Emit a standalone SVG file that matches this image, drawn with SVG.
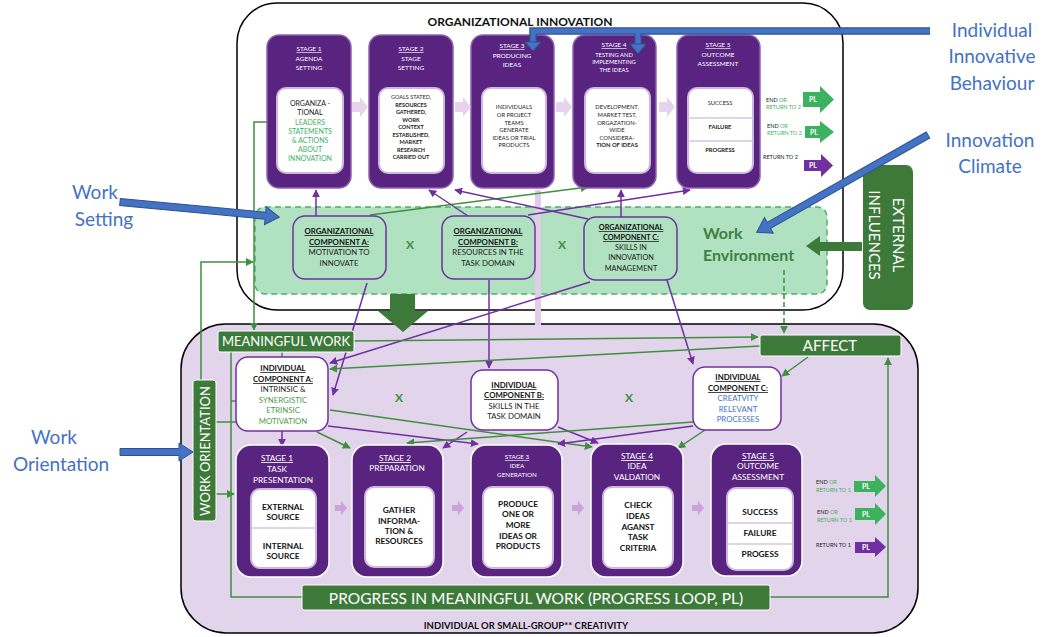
<svg xmlns="http://www.w3.org/2000/svg" width="1045" height="637" viewBox="0 0 1045 637">
<style>
text{font-family:Lato,"Liberation Sans",sans-serif;text-anchor:middle}
.stg{fill:#59247f;stroke:#8e63b3;stroke-width:1.5}
.bstg{fill:#59247f;stroke:#ffffff;stroke-width:1.5}
.wb{fill:#fff;stroke:#cfb6e0;stroke-width:2}
.tt{fill:#fff;font-size:6.5px}
.tu{fill:#fff;font-size:6.5px;text-decoration:underline}
.it{fill:#222;font-size:5.8px}
.bt{fill:#fff;font-size:8.3px}
.bu{fill:#fff;font-size:8.3px;text-decoration:underline}
.bi{fill:#111;font-size:8.3px;font-weight:bold}
.pl{fill:#fff;font-size:7px;font-weight:bold}
.sm{font-size:5.5px;text-anchor:start;fill:#222}
.g{fill:#3cb25f}
.gb{fill:#3d7a3a}
.oc{fill:none;stroke:#7030a0;stroke-width:1.5}
.ct{fill:#222;font-size:7.8px}
.cb{fill:#111;font-size:7.8px;font-weight:bold;text-decoration:underline}
.lp{stroke:#7030a0;stroke-width:1.5;fill:none;marker-end:url(#ap)}
.lg{stroke:#3f8f3f;stroke-width:1.5;fill:none;marker-end:url(#ag)}
.lgn{stroke:#3f8f3f;stroke-width:1.5;fill:none}
.blue{fill:#4472c4;stroke:#2f528f;stroke-width:1}
.bl{fill:#4472c4;font-size:19px;font-family:Lato,"Liberation Sans",sans-serif}
.X{fill:#3f8f3f;font-size:12px;font-weight:bold}
.la{fill:#e6d4ec}
.lb{fill:#c9a3d9}
</style>
<defs>
<marker id="ap" viewBox="0 0 10 10" refX="9" refY="5" markerWidth="8" markerHeight="8" markerUnits="userSpaceOnUse" orient="auto"><path d="M0,0 L10,5 L0,10 z" fill="#7030a0"/></marker>
<marker id="ag" viewBox="0 0 10 10" refX="9" refY="5" markerWidth="8" markerHeight="8" markerUnits="userSpaceOnUse" orient="auto"><path d="M0,0 L10,5 L0,10 z" fill="#3f8f3f"/></marker>
</defs>

<!-- containers -->
<g id="org-innovation">
<rect x="237" y="3" width="606" height="307" rx="40" fill="#fff" stroke="#000" stroke-width="1.5"/>
<text x="520" y="26" style="font-size:12px;font-weight:bold;fill:#111">ORGANIZATIONAL INNOVATION</text>
</g>
<g id="individual-creativity">
<rect x="181" y="324" width="737" height="309" rx="45" fill="#e2d4ea" stroke="#000" stroke-width="1.5"/>
<text x="526" y="629" style="font-size:9.5px;font-weight:bold;fill:#111">INDIVIDUAL OR SMALL-GROUP** CREATIVITY</text>
</g>
<g id="work-environment">
<rect x="255" y="207" width="572" height="87" rx="10" fill="#b0e1c1" stroke="#4cb064" stroke-width="1.5" stroke-dasharray="6,4"/>
<text x="703" y="239" style="text-anchor:start;font-size:16px;font-weight:bold;fill:#3f7f3f">Work</text>
<text x="703" y="261" style="text-anchor:start;font-size:16px;font-weight:bold;fill:#3f7f3f">Environment</text>
</g>

<!-- connectors -->
<g id="connectors">
<rect x="535" y="190" width="6" height="135" fill="#e2cce8"/>
<line class="lp" x1="316" y1="216" x2="316" y2="190"/>
<line class="lg" x1="370" y1="215" x2="588" y2="187"/>
<line class="lp" x1="468" y1="216" x2="429" y2="190"/>
<line class="lp" x1="588" y1="219" x2="455" y2="190"/>
<line class="lp" x1="621" y1="217" x2="621" y2="190"/>
<line class="lp" x1="528" y1="215" x2="690" y2="190"/>
<line class="lp" x1="367" y1="283" x2="333" y2="395"/>
<line class="lp" x1="590" y1="282" x2="330" y2="363"/>
<line class="lp" x1="489" y1="280" x2="489" y2="368"/>
<line class="lp" x1="667" y1="280" x2="693" y2="364"/>
<path class="lg" d="M278,122 H254 V330"/>
<path class="lg" d="M201,380 V262 H253"/>
<line class="lg" x1="784" y1="270" x2="784" y2="333" stroke-dasharray="5,3"/>
<line class="lg" x1="354" y1="341" x2="758" y2="337"/>
<line class="lg" x1="760" y1="346" x2="330" y2="369"/>
<line class="lg" x1="808" y1="357" x2="782" y2="376"/>
<line class="lg" x1="282" y1="352" x2="282" y2="366"/>
<path class="lgn" d="M231,352 V597 H302"/>
<line class="lg" x1="231" y1="401" x2="247" y2="401"/>
<line class="lg" x1="216" y1="422" x2="246" y2="422"/>
<line class="lg" x1="216" y1="494" x2="234" y2="494"/>
<path class="lg" d="M765,597 H888 V358"/>
<line class="lp" x1="282" y1="431" x2="282" y2="446"/>
<line class="lg" x1="317" y1="432" x2="350" y2="448"/>
<line class="lg" x1="330" y1="410" x2="592" y2="447"/>
<line class="lp" x1="328" y1="426" x2="478" y2="444"/>
<line class="lp" x1="467" y1="432" x2="443" y2="448"/>
<line class="lp" x1="558" y1="427" x2="598" y2="443"/>
<line class="lg" x1="693" y1="422" x2="407" y2="443"/>
<line class="lp" x1="693" y1="426" x2="558" y2="444"/>
<line class="lg" x1="705" y1="430" x2="678" y2="448"/>
<path class="gb" d="M390,294 H415 V311 H428 L403,332 L378,311 H390 Z"/>
<path class="gb" d="M862,242 H820 V236 L806,246 L820,256 V251 H862 Z"/>
</g>

<!-- labels outside -->
<g id="label-iib">
<text class="bl" x="992" y="37">Individual</text>
<text class="bl" x="992" y="63">Innovative</text>
<text class="bl" x="992" y="90">Behaviour</text>
</g>
<g id="label-climate">
<text class="bl" x="990" y="147">Innovation</text>
<text class="bl" x="990" y="173">Climate</text>
</g>
<g id="label-work-setting">
<text class="bl" x="95" y="199">Work</text>
<text class="bl" x="104" y="226">Setting</text>
</g>
<g id="label-work-orientation">
<text class="bl" x="54" y="444">Work</text>
<text class="bl" x="61" y="471">Orientation</text>
</g>
<g id="external-influences">
<rect x="863" y="165" width="50" height="145" rx="7" fill="#3d7a3a"/>
<text transform="translate(893,235) rotate(90)" style="fill:#fff;font-size:15px">EXTERNAL</text>
<text transform="translate(869,235) rotate(90)" style="fill:#fff;font-size:15px">INFLUENCES</text>
</g>

<!-- top stages -->
<g id="org-stage1">
<rect class="stg" x="267" y="35" width="84" height="153" rx="12"/>
<rect class="wb" x="277" y="88" width="66" height="85" rx="9"/>
<text class="tu" x="309" y="51">STAGE 1</text>
<text class="tt" x="309" y="61">AGENDA</text>
<text class="tt" x="309" y="70">SETTING</text>
<text class="it" x="310" y="106" style="font-size:7px">ORGANIZA -</text>
<text class="it" x="310" y="115" style="font-size:7px">TIONAL</text>
<text class="it" x="310" y="125" style="font-size:7px;fill:#3cb25f">LEADERS</text>
<text class="it" x="310" y="134" style="font-size:7px;fill:#3cb25f">STATEMENTS</text>
<text class="it" x="310" y="143" style="font-size:7px;fill:#3cb25f">&amp; ACTIONS</text>
<text class="it" x="310" y="152" style="font-size:7px;fill:#3cb25f">ABOUT</text>
<text class="it" x="310" y="161" style="font-size:7px;fill:#3cb25f">INNOVATION</text>
</g>
<g id="org-stage2">
<rect class="stg" x="369" y="35" width="84" height="153" rx="12"/>
<rect class="wb" x="379" y="88" width="65" height="85" rx="9"/>
<text class="tu" x="411" y="51">STAGE 2</text>
<text class="tt" x="411" y="61">STAGE</text>
<text class="tt" x="411" y="70">SETTING</text>
<text class="it" x="411" y="99" style="font-size:5.5px">GOALS STATED,</text>
<text class="it" x="411" y="107" style="font-size:5.5px;font-weight:bold">RESOURCES</text>
<text class="it" x="411" y="114" style="font-size:5.5px;font-weight:bold">GATHERED,</text>
<text class="it" x="411" y="122" style="font-size:5.5px;font-weight:bold">WORK</text>
<text class="it" x="411" y="129" style="font-size:5.5px;font-weight:bold">CONTEXT</text>
<text class="it" x="411" y="137" style="font-size:5.5px;font-weight:bold">ESTABLISHED,</text>
<text class="it" x="411" y="144" style="font-size:5.5px;font-weight:bold">MARKET</text>
<text class="it" x="411" y="152" style="font-size:5.5px;font-weight:bold">RESEARCH</text>
<text class="it" x="411" y="159" style="font-size:5.5px;font-weight:bold">CARRIED OUT</text>
</g>
<g id="org-stage3">
<rect class="stg" x="471" y="35" width="83" height="153" rx="12"/>
<rect class="wb" x="482" y="88" width="64" height="85" rx="9"/>
<text class="tu" x="512" y="48">STAGE 3</text>
<text class="tt" x="512" y="58">PRODUCING</text>
<text class="tt" x="512" y="67">IDEAS</text>
<text class="it" x="514" y="109">INDIVIDUALS</text>
<text class="it" x="514" y="117">OR PROJECT</text>
<text class="it" x="514" y="125">TEAMS</text>
<text class="it" x="514" y="132">GENERATE</text>
<text class="it" x="514" y="140">IDEAS OR TRIAL</text>
<text class="it" x="514" y="147">PRODUCTS</text>
</g>
<g id="org-stage4">
<rect class="stg" x="573" y="35" width="83" height="153" rx="12"/>
<rect class="wb" x="585" y="88" width="65" height="85" rx="9"/>
<text class="tu" x="614" y="47">STAGE 4</text>
<text class="tt" x="614" y="57" style="font-size:5.8px">TESTING AND</text>
<text class="tt" x="614" y="64" style="font-size:5.8px">IMPLEMENTING</text>
<text class="tt" x="614" y="72" style="font-size:5.8px">THE IDEAS</text>
<text class="it" x="617" y="109">DEVELOPMENT,</text>
<text class="it" x="617" y="117">MARKET TEST,</text>
<text class="it" x="617" y="125">ORGAZATION-</text>
<text class="it" x="617" y="132">WIDE</text>
<text class="it" x="617" y="140">CONSIDERA-</text>
<text class="it" x="617" y="147" style="font-weight:bold">TION OF IDEAS</text>
</g>
<g id="org-stage5">
<rect class="stg" x="677" y="35" width="83" height="153" rx="12"/>
<rect class="wb" x="688" y="88" width="65" height="85" rx="9"/>
<line x1="688" y1="118" x2="753" y2="118" stroke="#d9c3e5" stroke-width="1.5"/>
<line x1="688" y1="141" x2="753" y2="141" stroke="#d9c3e5" stroke-width="1.5"/>
<text class="tu" x="718" y="47">STAGE 5</text>
<text class="tt" x="718" y="57">OUTCOME</text>
<text class="tt" x="718" y="66">ASSESSMENT</text>
<text class="it" x="720" y="105">SUCCESS</text>
<text class="it" x="720" y="129" style="font-weight:bold">FAILURE</text>
<text class="it" x="720" y="152" style="font-weight:bold">PROGRESS</text>
</g>
<g id="org-stage-flow">
<path class="la" d="M352,102 H360 V97 L368,107 L360,117 V112 H352 Z"/>
<path class="la" d="M455,102 H463 V97 L471,107 L463,117 V112 H455 Z"/>
<path class="la" d="M556,102 H564 V97 L572,107 L564,117 V112 H556 Z"/>
<path class="la" d="M659,102 H667 V97 L675,107 L667,117 V112 H659 Z"/>
</g>
<g id="org-outcomes">
<text class="sm" x="766" y="102">END <tspan class="g">OR</tspan></text>
<text class="sm g" x="766" y="109">RETURN TO 2</text>
<text class="sm" x="767" y="128">END <tspan class="g">OR</tspan></text>
<text class="sm g" x="767" y="135">RETURN TO 2</text>
<text class="sm" x="763" y="159">RETURN TO 2</text>
<path d="M803,92 H820 V86 L834,99.5 L820,113 V107 H803 Z" fill="#3cb25f"/>
<path d="M805,126 H820 V121 L834,132 L820,143 V138 H805 Z" fill="#3cb25f"/>
<path d="M804,160 H821 V154 L833,165.5 L821,177 V171 H804 Z" fill="#7030a0"/>
<text class="pl" x="813" y="102">PL</text>
<text class="pl" x="814" y="134.5">PL</text>
<text class="pl" x="813" y="168">PL</text>
</g>

<!-- organizational components -->
<g id="org-comp-a">
<rect class="oc" x="293" y="216" width="93" height="63" rx="12"/>
<text class="cb" x="339" y="234">ORGANIZATIONAL</text>
<text class="cb" x="339" y="245">COMPONENT A:</text>
<text class="ct" x="339" y="255">MOTIVATION TO</text>
<text class="ct" x="339" y="266">INNOVATE</text>
</g>
<g id="org-comp-b">
<rect class="oc" x="442" y="216" width="93" height="63" rx="12"/>
<text class="cb" x="488" y="234">ORGANIZATIONAL</text>
<text class="cb" x="488" y="245">COMPONENT B:</text>
<text class="ct" x="488" y="255">RESOURCES IN THE</text>
<text class="ct" x="488" y="266">TASK DOMAIN</text>
</g>
<g id="org-comp-c">
<rect class="oc" x="584" y="217" width="93" height="63" rx="12"/>
<text class="cb" x="631" y="230" style="font-size:7.3px">ORGANIZATIONAL</text>
<text class="cb" x="631" y="240" style="font-size:7.3px">COMPONENT C:</text>
<text class="ct" x="631" y="250" style="font-size:7.3px">SKILLS IN</text>
<text class="ct" x="631" y="260" style="font-size:7.3px">INNOVATION</text>
<text class="ct" x="631" y="271" style="font-size:7.3px">MANAGEMENT</text>
</g>
<text class="X" x="410" y="249">X</text>
<text class="X" x="562" y="249">X</text>

<!-- meaningful work / affect / orientation -->
<g id="meaningful-work">
<rect x="218" y="331" width="136" height="21" rx="2" fill="#3d7a3a" stroke="#fff" stroke-width="1"/>
<text x="286" y="346" style="fill:#fff;font-size:13px">MEANINGFUL WORK</text>
</g>
<g id="affect">
<rect x="760" y="335" width="141" height="21" rx="2" fill="#3d7a3a" stroke="#fff" stroke-width="1"/>
<text x="830" y="351" style="fill:#fff;font-size:15px">AFFECT</text>
</g>
<g id="work-orientation">
<rect x="193" y="380" width="23" height="141" rx="3" fill="#3d7a3a" stroke="#fff" stroke-width="1"/>
<text transform="translate(210,451) rotate(-90)" style="fill:#fff;font-size:13px">WORK ORIENTATION</text>
</g>

<!-- individual components -->
<g id="ind-comp-a">
<rect x="236" y="357" width="92" height="74" rx="12" fill="#fff" stroke="#7030a0" stroke-width="1.5"/>
<text class="cb" x="283" y="371">INDIVIDUAL</text>
<text class="cb" x="283" y="382">COMPONENT A:</text>
<text class="ct" x="283" y="392">INTRINSIC &amp;</text>
<text class="ct" x="283" y="403" style="fill:#4c9a48">SYNERGISTIC</text>
<text class="ct" x="283" y="413" style="fill:#4c9a48">ETRINSIC</text>
<text class="ct" x="283" y="424" style="fill:#4c9a48">MOTIVATION</text>
</g>
<g id="ind-comp-b">
<rect x="471" y="370" width="87" height="60" rx="12" fill="#fff" stroke="#7030a0" stroke-width="1.5"/>
<text class="cb" x="514" y="388">INDIVIDUAL</text>
<text class="cb" x="514" y="398">COMPONENT B:</text>
<text class="ct" x="514" y="409">SKILLS IN THE</text>
<text class="ct" x="514" y="419">TASK DOMAIN</text>
</g>
<g id="ind-comp-c">
<rect x="693" y="367" width="88" height="63" rx="12" fill="#fff" stroke="#7030a0" stroke-width="1.5"/>
<text class="cb" x="738" y="380">INDIVIDUAL</text>
<text class="cb" x="738" y="391">COMPONENT C:</text>
<text class="ct" x="738" y="401" style="fill:#4472c4">CREATVITY</text>
<text class="ct" x="738" y="412" style="fill:#4472c4">RELEVANT</text>
<text class="ct" x="738" y="422" style="fill:#4472c4">PROCESSES</text>
</g>
<text class="X" x="399" y="402">X</text>
<text class="X" x="629" y="402">X</text>

<!-- bottom stages -->
<g id="ind-stage1">
<rect class="bstg" x="236" y="445" width="93" height="132" rx="15"/>
<rect class="wb" x="251" y="489" width="65" height="79" rx="9"/>
<line x1="251" y1="528" x2="316" y2="528" stroke="#d9c3e5" stroke-width="1.5"/>
<text class="bu" x="277" y="461">STAGE 1</text>
<text class="bt" x="277" y="472">TASK</text>
<text class="bt" x="283" y="483">PRESENTATION</text>
<text class="bi" x="283" y="510">EXTERNAL</text>
<text class="bi" x="283" y="520">SOURCE</text>
<text class="bi" x="283" y="549">INTERNAL</text>
<text class="bi" x="283" y="559">SOURCE</text>
</g>
<g id="ind-stage2">
<rect class="bstg" x="352" y="445" width="91" height="132" rx="15"/>
<rect class="wb" x="365" y="487" width="69" height="80" rx="9"/>
<text class="bu" x="395" y="461">STAGE 2</text>
<text class="bt" x="397" y="471">PREPARATION</text>
<text class="bi" x="399" y="513">GATHER</text>
<text class="bi" x="399" y="524">INFORMA-</text>
<text class="bi" x="399" y="534">TION &amp;</text>
<text class="bi" x="399" y="544">RESOURCES</text>
</g>
<g id="ind-stage3">
<rect class="bstg" x="471" y="445" width="91" height="132" rx="15"/>
<rect class="wb" x="483" y="487" width="70" height="81" rx="9"/>
<text class="bu" x="517" y="459" style="font-size:6.3px">STAGE 3</text>
<text class="bt" x="517" y="468" style="font-size:6.3px">IDEA</text>
<text class="bt" x="517" y="477" style="font-size:6.3px">GENERATION</text>
<text class="bi" x="518" y="507">PRODUCE</text>
<text class="bi" x="518" y="517">ONE OR</text>
<text class="bi" x="518" y="528">MORE</text>
<text class="bi" x="518" y="539">IDEAS OR</text>
<text class="bi" x="518" y="549">PRODUCTS</text>
</g>
<g id="ind-stage4">
<rect class="bstg" x="591" y="444" width="92" height="133" rx="15"/>
<rect class="wb" x="603" y="487" width="70" height="81" rx="9"/>
<text class="bu" x="637" y="459">STAGE 4</text>
<text class="bt" x="637" y="469">IDEA</text>
<text class="bt" x="637" y="480">VALDATION</text>
<text class="bi" x="638" y="508">CHECK</text>
<text class="bi" x="638" y="519">IDEAS</text>
<text class="bi" x="638" y="530">AGANST</text>
<text class="bi" x="638" y="540">TASK</text>
<text class="bi" x="638" y="551">CRITERIA</text>
</g>
<g id="ind-stage5">
<rect class="bstg" x="711" y="444" width="91" height="132" rx="15"/>
<rect class="wb" x="727" y="488" width="66" height="82" rx="9"/>
<line x1="728" y1="523" x2="792" y2="523" stroke="#d9c3e5" stroke-width="1.5"/>
<line x1="728" y1="544" x2="792" y2="544" stroke="#d9c3e5" stroke-width="1.5"/>
<text class="bu" x="758" y="459">STAGE 5</text>
<text class="bt" x="758" y="469">OUTCOME</text>
<text class="bt" x="758" y="480">ASSESSMENT</text>
<text class="bi" x="760" y="515">SUCCESS</text>
<text class="bi" x="760" y="536">FAILURE</text>
<text class="bi" x="760" y="557">PROGESS</text>
</g>
<g id="ind-stage-flow">
<path class="lb" d="M335,505 H341 V501 L347,508 L341,515 V511 H335 Z"/>
<path class="lb" d="M452,505 H458 V501 L464,508 L458,515 V511 H452 Z"/>
<path class="lb" d="M572,505 H578 V501 L584,508 L578,515 V511 H572 Z"/>
<path class="lb" d="M692,505 H698 V501 L704,508 L698,515 V511 H692 Z"/>
</g>
<g id="ind-outcomes">
<text class="sm" x="816" y="484">END <tspan class="g">OR</tspan></text>
<text class="sm g" x="816" y="492">RETURN TO 1</text>
<text class="sm" x="817" y="514">END <tspan class="g">OR</tspan></text>
<text class="sm g" x="817" y="522">RETURN TO 1</text>
<text class="sm" x="816" y="547">RETURN TO 1</text>
<path d="M854,481 H875 V475 L886,486 L875,497 V492 H854 Z" fill="#3cb25f"/>
<path d="M855,508 H875 V503 L886,514 L875,525 V520 H855 Z" fill="#3cb25f"/>
<path d="M855,542 H875 V537 L886,547 L875,557 V553 H855 Z" fill="#7030a0"/>
<text class="pl" x="866" y="489">PL</text>
<text class="pl" x="866" y="517">PL</text>
<text class="pl" x="866" y="550">PL</text>
</g>
<g id="progress-loop">
<rect x="302" y="585" width="468" height="25" rx="2" fill="#3d7a3a" stroke="#fff" stroke-width="1"/>
<text x="536" y="604" style="fill:#fff;font-size:15.5px">PROGRESS IN MEANINGFUL WORK (PROGRESS LOOP, PL)</text>
</g>

<!-- blue influence arrows (on top) -->
<g id="blue-arrows">
<path d="M930,31 H533 V44 M638,31 V46" fill="none" stroke="#2f528f" stroke-width="7.5"/>
<path d="M930,31 H533 V44 M638,31 V46" fill="none" stroke="#4472c4" stroke-width="5"/>
<path class="blue" d="M525,42 H541 L533,51 Z"/>
<path class="blue" d="M630,44 H646 L638,54 Z"/>
<g transform="translate(120,202) rotate(5.4)"><path class="blue" d="M0,-3.5 H146 V-9 L160,0 L146,9 V3.5 H0 Z"/></g>
<g transform="translate(928,135) rotate(150.4)"><path class="blue" d="M0,-3.5 H183 V-9 L197,0 L183,9 V3.5 H0 Z"/></g>
<g transform="translate(120,452)"><path class="blue" d="M0,-3.5 H59 V-9 L73,0 L59,9 V3.5 H0 Z"/></g>
</g>
</svg>
